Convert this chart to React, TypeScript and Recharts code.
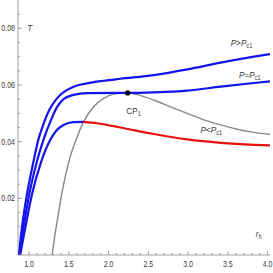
import React from 'react';
import { LineChart, Line, XAxis, YAxis, ReferenceDot } from 'recharts';

// P > Pc1 (upper blue)
const rHigh = [0.870, 0.908, 0.971, 1.054, 1.117, 1.180, 1.25, 1.328, 1.412, 1.559, 1.728, 1.937, 2.148, 2.568, 2.989, 3.409, 3.829, 4.03];
const tHigh = [0, 0.0094, 0.0212, 0.0329, 0.0408, 0.0462, 0.0510, 0.0545, 0.0570, 0.0594, 0.0606, 0.0615, 0.0622, 0.0635, 0.0655, 0.0679, 0.0700, 0.0709];

// P = Pc1 (middle blue)
const rCrit = [0.878, 0.928, 1.0, 1.097, 1.180, 1.265, 1.349, 1.433, 1.559, 1.728, 2.148, 2.24, 2.568, 2.989, 3.409, 3.829, 4.03];
const tCrit = [0, 0.0094, 0.0212, 0.0329, 0.0406, 0.0470, 0.0521, 0.0550, 0.0565, 0.0571, 0.0572, 0.0572, 0.0574, 0.0580, 0.0594, 0.0607, 0.0613];

// P < Pc1 (lower curve: blue part, red part)
const rLowBlue = [0.887, 0.950, 1.034, 1.151, 1.265, 1.349, 1.433, 1.559, 1.685];
const tLowBlue = [0, 0.0094, 0.0212, 0.0329, 0.0406, 0.0441, 0.0459, 0.0469, 0.0470];
const rLowRed = [1.685, 1.854, 2.148, 2.568, 2.989, 3.409, 3.829, 4.03];
const tLowRed = [0.0470, 0.0465, 0.0450, 0.0427, 0.0408, 0.0396, 0.0389, 0.0387];

// gray locus of extrema
const rGray = [1.290, 1.328, 1.369, 1.412, 1.454, 1.517, 1.589, 1.685, 1.811, 1.937, 2.063, 2.24, 2.358, 2.568, 2.778, 2.989, 3.198, 3.409, 3.619, 3.829, 4.03];
const tGray = [0, 0.0077, 0.0147, 0.0218, 0.0276, 0.0347, 0.0406, 0.0470, 0.0523, 0.0553, 0.0568, 0.0572, 0.0566, 0.0547, 0.0523, 0.0500, 0.0477, 0.0459, 0.0444, 0.0433, 0.0426];

// critical point
const cpR = 2.24;
const cpT = 0.0572;

const xMajorTicks = [1.0, 1.5, 2.0, 2.5, 3.0, 3.5, 4.0];
const xAllTicks = Array.from({ length: 32 }, (_, i) => Math.round((0.9 + i * 0.1) * 10) / 10);
const yMajorTicks = [0.02, 0.04, 0.06, 0.08];
const yAllTicks = Array.from({ length: 17 }, (_, i) => Math.round((0.005 + i * 0.005) * 1000) / 1000);

const zip = (r: number[], t: number[]) => r.map((v, i) => ({ r: v, T: t[i] }));

const highData = zip(rHigh, tHigh);
const critData = zip(rCrit, tCrit);
const lowBlueData = zip(rLowBlue, tLowBlue);
const lowRedData = zip(rLowRed, tLowRed);
const grayData = zip(rGray, tGray);

const FONT = '"Liberation Sans", Arial, sans-serif';
const AXIS = '#8a8a8a';
const TEXT = '#3a3a3a';
const BLUE = '#1414ee';
const RED = '#e81010';
const GRAY = '#888888';
const SX = 0.8;

const XTick = (props: any) => {
  const { x, y, payload } = props;
  const v = payload.value as number;
  const major = xMajorTicks.some((m) => Math.abs(m - v) < 1e-6);
  return (
    <g>
      <line x1={x} x2={x} y1={y} y2={y - (major ? 4 : 2)} stroke={AXIS} strokeWidth={0.8} />
      {major && (
        <text
          transform={`translate(${x},${y + 12}) scale(${SX},1)`}
          textAnchor="middle"
          fontSize={8.8}
          fontFamily={FONT}
          fill={TEXT}
        >
          {v.toFixed(1)}
        </text>
      )}
    </g>
  );
};

const YTick = (props: any) => {
  const { x, y, payload } = props;
  const v = payload.value as number;
  const major = yMajorTicks.some((m) => Math.abs(m - v) < 1e-6);
  return (
    <g>
      <line x1={x} x2={x + (major ? 4 : 2)} y1={y} y2={y} stroke={AXIS} strokeWidth={0.8} />
      {major && (
        <text
          transform={`translate(${x - 3},${y + 3}) scale(${SX},1)`}
          textAnchor="end"
          fontSize={8.8}
          fontFamily={FONT}
          fill={TEXT}
        >
          {v.toFixed(2)}
        </text>
      )}
    </g>
  );
};

const mkLabel = (main: React.ReactNode) => (p: any) => {
  const vb = p.viewBox || {};
  return (
    <text
      transform={`translate(${vb.x},${vb.y}) scale(0.88,1)`}
      fontSize={9.3}
      fontFamily={FONT}
      fill={TEXT}
    >
      {main}
    </text>
  );
};

const PLabel = (op: string) => (
  <>
    <tspan fontStyle="italic">P</tspan>
    <tspan>{op}</tspan>
    <tspan fontStyle="italic">P</tspan>
    <tspan fontSize={6.5} dy={2}>c1</tspan>
  </>
);

const annotations = [
  { r: 3.535, T: 0.0738, content: PLabel('>') },
  { r: 3.64, T: 0.0625, content: PLabel('=') },
  { r: 3.156, T: 0.0429, content: PLabel('<') },
  {
    r: 2.223,
    T: 0.0498,
    content: (
      <>
        <tspan>CP</tspan>
        <tspan fontSize={6.5} dy={2}>1</tspan>
      </>
    ),
  },
  { r: 0.975, T: 0.0791, content: <tspan fontStyle="italic">T</tspan> },
  {
    r: 3.85,
    T: 0.0062,
    content: (
      <>
        <tspan fontStyle="italic">r</tspan>
        <tspan fontSize={6.5} dy={2}>h</tspan>
      </>
    ),
  },
];

export default function App() {
  return (
    <div style={{ position: 'absolute', left: 0, top: 0, width: 273, height: 273, background: '#fff' }}>
      <LineChart width={273} height={273} margin={{ top: 0, right: 3, bottom: 0, left: 0 }}>
        <XAxis
          type="number"
          dataKey="r"
          domain={[0.86, 4.03]}
          ticks={xAllTicks}
          allowDataOverflow
          height={18}
          tickSize={0}
          tickMargin={0}
          tickLine={false}
          tick={<XTick />}
          axisLine={{ stroke: AXIS, strokeWidth: 0.8 }}
          interval={0}
        />
        <YAxis
          type="number"
          domain={[0, 0.09]}
          ticks={yAllTicks}
          allowDataOverflow
          width={18}
          tickSize={0}
          tickMargin={0}
          tickLine={false}
          tick={<YTick />}
          axisLine={{ stroke: AXIS, strokeWidth: 0.8 }}
          interval={0}
        />
        <Line data={grayData} dataKey="T" type="monotone" stroke={GRAY} strokeWidth={1.4} dot={false} isAnimationActive={false} />
        <Line data={highData} dataKey="T" type="monotone" stroke={BLUE} strokeWidth={2.2} dot={false} isAnimationActive={false} />
        <Line data={critData} dataKey="T" type="monotone" stroke={BLUE} strokeWidth={2.2} dot={false} isAnimationActive={false} />
        <Line data={lowBlueData} dataKey="T" type="monotone" stroke={BLUE} strokeWidth={2.2} dot={false} isAnimationActive={false} />
        <Line data={lowRedData} dataKey="T" type="monotone" stroke={RED} strokeWidth={2.2} dot={false} isAnimationActive={false} />
        <ReferenceDot x={cpR} y={cpT} r={2.6} fill="#000" stroke="none" isFront />
        {annotations.map((a, i) => (
          <ReferenceDot
            key={i}
            x={a.r}
            y={a.T}
            r={0}
            fill="none"
            stroke="none"
            isFront
            label={{ content: mkLabel(a.content) } as any}
          />
        ))}
      </LineChart>
    </div>
  );
}
